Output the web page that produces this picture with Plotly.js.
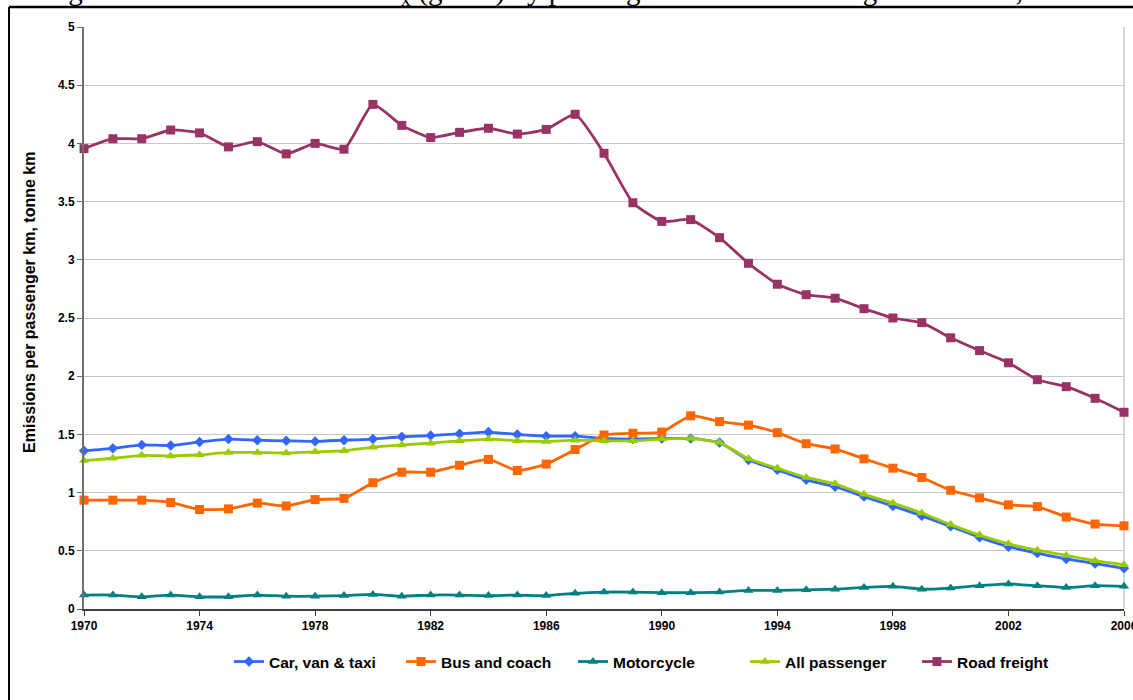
<!DOCTYPE html>
<html>
<head>
<meta charset="utf-8">
<script src="https://cdn.plot.ly/plotly-3.0.1.min.js"></script>
<style>html,body{margin:0;padding:0;background:#fff;}#chart{width:1133px;height:700px;}</style>
</head>
<body>
<div id="chart"></div>
<script>
const years = [1970,1971,1972,1973,1974,1975,1976,1977,1978,1979,1980,1981,1982,1983,1984,1985,1986,1987,1988,1989,1990,1991,1992,1993,1994,1995,1996,1997,1998,1999,2000,2001,2002,2003,2004,2005,2006];
const carVanTaxi = [1.36,1.38,1.41,1.405,1.435,1.46,1.45,1.445,1.44,1.45,1.46,1.48,1.49,1.505,1.52,1.50,1.485,1.485,1.465,1.46,1.465,1.465,1.43,1.28,1.195,1.11,1.05,0.965,0.885,0.80,0.71,0.615,0.535,0.48,0.43,0.39,0.35];
const busCoach = [0.935,0.935,0.935,0.915,0.855,0.86,0.91,0.885,0.94,0.95,1.085,1.175,1.175,1.235,1.285,1.19,1.245,1.37,1.495,1.51,1.52,1.66,1.61,1.58,1.515,1.42,1.375,1.29,1.21,1.13,1.02,0.955,0.895,0.88,0.79,0.73,0.715];
const motorcycle = [0.12,0.12,0.105,0.12,0.105,0.105,0.12,0.11,0.11,0.115,0.125,0.11,0.12,0.12,0.115,0.12,0.115,0.135,0.145,0.145,0.14,0.14,0.145,0.16,0.16,0.165,0.17,0.185,0.195,0.17,0.18,0.20,0.215,0.20,0.185,0.20,0.195];
const allPassenger = [1.275,1.295,1.32,1.315,1.325,1.345,1.345,1.34,1.35,1.36,1.39,1.41,1.425,1.445,1.46,1.445,1.44,1.45,1.445,1.445,1.46,1.465,1.43,1.29,1.21,1.13,1.075,0.985,0.91,0.825,0.725,0.635,0.56,0.505,0.46,0.415,0.38];
const roadFreight = [3.955,4.04,4.04,4.115,4.09,3.97,4.015,3.91,4.0,3.95,4.335,4.155,4.05,4.095,4.13,4.08,4.12,4.25,3.915,3.49,3.33,3.345,3.19,2.97,2.79,2.70,2.67,2.58,2.50,2.46,2.33,2.22,2.115,1.97,1.91,1.81,1.69];
const xTickVals = [1970,1974,1978,1982,1986,1990,1994,1998,2002,2006];
const yTickVals = [0,0.5,1,1.5,2,2.5,3,3.5,4,4.5,5];
const yTickText = ["0","0.5","1","1.5","2","2.5","3","3.5","4","4.5","5"];

const seriesDefs = [
  {name:"Car, van & taxi", y:carVanTaxi, color:"#3366FF", symbol:"diamond", size:8},
  {name:"Bus and coach", y:busCoach, color:"#FF6600", symbol:"square", size:9},
  {name:"Motorcycle", y:motorcycle, color:"#008080", symbol:"triangle-up", size:9},
  {name:"All passenger", y:allPassenger, color:"#99CC00", symbol:"triangle-up", size:9},
  {name:"Road freight", y:roadFreight, color:"#993366", symbol:"square", size:9}
];

const traces = seriesDefs.map(s => ({
  type:"scatter", mode:"lines+markers", name:s.name, x:years, y:s.y,
  line:{color:s.color, width:2.8, shape:"spline", smoothing:0.5},
  marker:{color:s.color, symbol:s.symbol, size:s.size, line:{width:0}},
  cliponaxis:false
}));

const FAM = "Liberation Sans, Arial, sans-serif";
const tickFont = {family:FAM, size:12, color:"#000", weight:"bold"};
const layout = {
  width:1133, height:700,
  margin:{l:84, r:9, t:27, b:91},
  paper_bgcolor:"#fff", plot_bgcolor:"#fff",
  showlegend:true,
  legend:{orientation:"h", x:0.1394, xanchor:"left", y:-0.091, yanchor:"middle",
    font:{family:FAM, size:15.5, color:"#000", weight:"bold"}, itemwidth:30,
    entrywidth:127, entrywidthmode:"pixels"},
  xaxis:{range:[1970,2006], tickvals:xTickVals, ticktext:xTickVals.map(String), ticks:"outside", ticklen:5, tickcolor:"#404040",
    showgrid:false, zeroline:false, showline:true, linecolor:"#404040", linewidth:2, tickfont:tickFont, fixedrange:true,
    ticklabeloverflow:"allow"},
  yaxis:{range:[0,5], tickvals:yTickVals, ticktext:yTickText, ticks:"outside", ticklen:5, tickcolor:"#707070",
    showgrid:true, gridcolor:"#C8C8C8", gridwidth:1, zeroline:false, showline:true, linecolor:"#707070", linewidth:2,
    tickfont:tickFont, fixedrange:true},
  shapes:[
    {type:"line", xref:"paper", yref:"paper", x0:1, x1:1, y0:0, y1:1, line:{color:"#C8C8C8", width:1.5}, layer:"below"},
    {type:"line", xref:"paper", yref:"paper", x0:-0.0721, x1:1.2, y0:1.0344, y1:1.0344, line:{color:"#000", width:2.5}},
    {type:"line", xref:"paper", yref:"paper", x0:-0.0721, x1:-0.0721, y0:1.0344, y1:-0.3, line:{color:"#000", width:2}}
  ],
  annotations:[
    {xref:"paper", yref:"paper", x:-0.0404, y:1.0258, xanchor:"left", yanchor:"bottom", showarrow:false,
     text:"Figure 5: UK emissions of NO<sub>x</sub> (g/unit) by passenger km and road freight tonne km, 1970 to 2006",
     font:{family:"Liberation Serif, Times New Roman, serif", size:29, color:"#000"}},
    {xref:"paper", yref:"paper", x:-0.0519, y:0.5258, xanchor:"center", yanchor:"middle", showarrow:false, textangle:-90,
     text:"Emissions per passenger km, tonne km",
     font:{family:FAM, size:16, color:"#000", weight:"bold"}}
  ]
};
Plotly.newPlot("chart", traces, layout, {displayModeBar:false, staticPlot:true});
</script>
</body>
</html>
